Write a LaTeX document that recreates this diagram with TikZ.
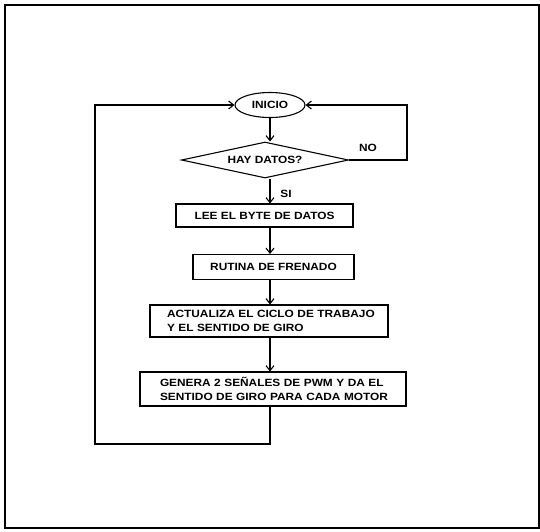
\documentclass[tikz,border=0pt]{standalone}
\usepackage{fontspec}
\setmainfont{Liberation Sans}
\newfontfamily\widefont[FakeStretch=1.13]{Liberation Sans}
\usetikzlibrary{arrows.meta,shapes.geometric}
\begin{document}
\begin{tikzpicture}[x=1pt,y=-1pt,
  every node/.style={font=\widefont\bfseries\fontsize{10.5}{14}\selectfont},
  ln/.style={line width=1.1pt},
  arr/.style={ln,-{Straight Barb[length=5pt,width=8pt]}},
  procbox/.style={draw,ln,rectangle,inner sep=0pt},
  widebox/.style={procbox,inner xsep=4pt,align=left},
  lbl/.style={inner sep=0pt}]
\useasboundingbox (0,0) rectangle (540,531);
\draw[line width=1.8pt] (5,5) -- (539,5) -- (539,528) -- (5,528) -- cycle;
\node[draw,ln,ellipse,minimum width=70pt,minimum height=25pt,inner sep=0pt] (inicio) at (270,105) {INICIO};
\node[draw,ln,diamond,minimum width=167pt,minimum height=36pt,inner sep=0pt,aspect=4.6] (dec) at (265,160) {HAY DATOS?};
\node[procbox,minimum width=177pt,minimum height=23pt] (b1) at (264.5,215.5) {LEE EL BYTE DE DATOS};
\node[procbox,minimum width=161pt,minimum height=25pt] (b2) at (273.5,267) {RUTINA DE FRENADO};
\node[widebox,minimum width=238pt,minimum height=32pt,text width=230pt] (b3) at (269,321) {\hspace*{13pt}ACTUALIZA EL CICLO DE TRABAJO\\\hspace*{13pt}Y EL SENTIDO DE GIRO};
\node[widebox,minimum width=266pt,minimum height=34pt,text width=258pt] (b4) at (273,389) {\hspace*{16pt}GENERA 2 SEÑALES DE PWM Y DA EL\\\hspace*{16pt}SENTIDO DE GIRO PARA CADA MOTOR};
\node[lbl] (si) at (286,194) {SI};
\node[lbl] (no) at (368,148) {NO};
\coordinate (nr) at (407,160);
\coordinate (bl) at (95,444);
\coordinate (bb) at (270,444);
\draw[arr] (inicio.south -| 270,0) -- (dec.north -| 270,0);
\draw[arr] (dec.south -| 270,0) -- (b1.north -| 270,0);
\draw[arr] (b1.south -| 270,0) -- (b2.north -| 270,0);
\draw[arr] (b2.south -| 270,0) -- (b3.north -| 270,0);
\draw[arr] (b3.south -| 270,0) -- (b4.north -| 270,0);
\draw[arr] (dec.east) -- (nr) |- (inicio.east);
\draw[arr] (b4.south -| bb) -- (bb) -- (bl) |- (inicio.west);
\end{tikzpicture}
\end{document}
